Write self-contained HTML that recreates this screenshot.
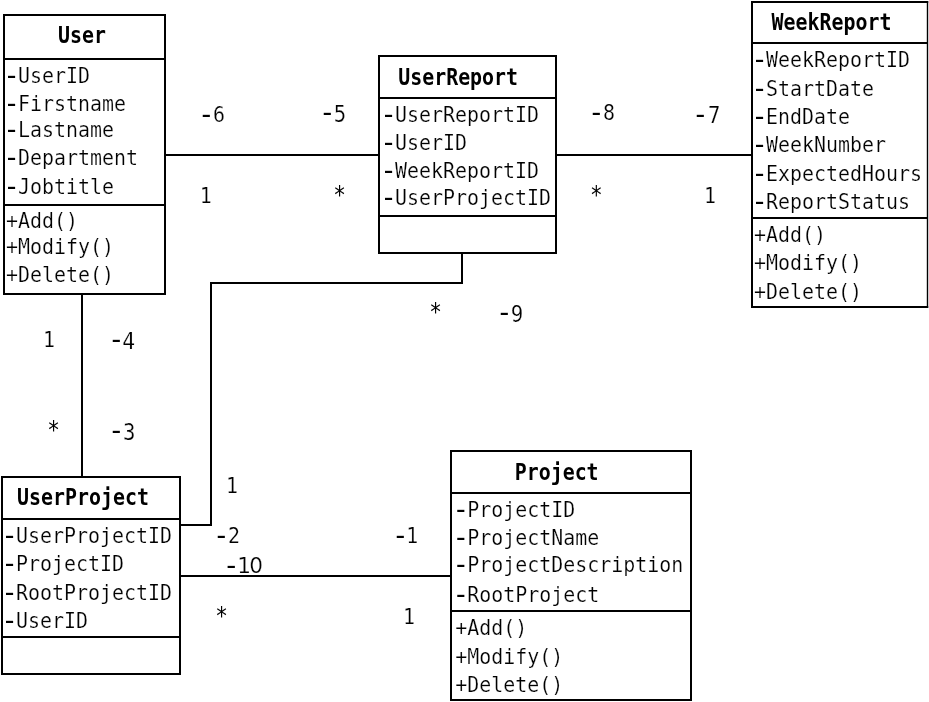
<!DOCTYPE html>
<html lang="en">
<head>
<meta charset="utf-8">
<title>Class diagram</title>
<style>
html,body{margin:0;padding:0;background:#fff;}
body{width:929px;height:702px;overflow:hidden;}
svg{display:block;will-change:transform;filter:grayscale(1);}
text{font-family:"DejaVu Sans Mono", "Liberation Mono", monospace;fill:#000;white-space:pre;}
.t,.z{stroke:#fff;stroke-width:.22px;}
.t{font-size:21.8px;}
.h{font-family:"Liberation Mono","DejaVu Sans Mono",monospace;font-size:28.5px;stroke:none;}
.b{font-size:22.3px;font-weight:bold;}
.z{font-family:"DejaVu Sans","Liberation Sans",sans-serif;font-size:21.8px;}
.s{font-family:"DejaVu Sans Mono","Liberation Mono",monospace;font-size:24.56px;}
.ln{fill:none;stroke:#000;stroke-width:2;stroke-linecap:butt;stroke-linejoin:miter;}
</style>
</head>
<body>
<svg width="929" height="702" viewBox="0 0 929 702">
<rect x="0" y="0" width="929" height="702" fill="#fff"/>
<polyline class="ln" points="165,155 379,155"/>
<polyline class="ln" points="556,155 752,155"/>
<polyline class="ln" points="82,294 82,477"/>
<polyline class="ln" points="180,525 211,525 211,283 462,283 462,253"/>
<polyline class="ln" points="180,576 451,576"/>
<rect class="ln" x="4" y="15" width="161" height="279" style="fill:#fff"/>
<line class="ln" x1="4" y1="59" x2="165" y2="59"/>
<line class="ln" x1="4" y1="205" x2="165" y2="205"/>
<text class="b" transform="translate(58 43) scale(0.8938 1)">User</text>
<text class="t" transform="translate(6 83) scale(0.9143 1)"><tspan class="h" dx="-2.57" dy="1">-</tspan><tspan dx="-1.41" dy="-1">UserID</tspan></text>
<text class="t" transform="translate(6 111) scale(0.9143 1)"><tspan class="h" dx="-2.57" dy="1">-</tspan><tspan dx="-1.41" dy="-1">Firstname</tspan></text>
<text class="t" transform="translate(6 137) scale(0.9143 1)"><tspan class="h" dx="-2.57" dy="1">-</tspan><tspan dx="-1.41" dy="-1">Lastname</tspan></text>
<text class="t" transform="translate(6 165) scale(0.9143 1)"><tspan class="h" dx="-2.57" dy="1">-</tspan><tspan dx="-1.41" dy="-1">Department</tspan></text>
<text class="t" transform="translate(6 194) scale(0.9143 1)"><tspan class="h" dx="-2.57" dy="1">-</tspan><tspan dx="-1.41" dy="-1">Jobtitle</tspan></text>
<text class="t" transform="translate(6 228) scale(0.9143 1)">+Add()</text>
<text class="t" transform="translate(6 254) scale(0.9143 1)">+Modify()</text>
<text class="t" transform="translate(6 282) scale(0.9143 1)">+Delete()</text>
<rect class="ln" x="379" y="56" width="177" height="197" style="fill:#fff"/>
<line class="ln" x1="379" y1="98" x2="556" y2="98"/>
<line class="ln" x1="379" y1="216" x2="556" y2="216"/>
<text class="b" transform="translate(398.2 85) scale(0.8938 1)">UserReport</text>
<text class="t" transform="translate(383 122) scale(0.9143 1)"><tspan class="h" dx="-2.57" dy="1">-</tspan><tspan dx="-1.41" dy="-1">UserReportID</tspan></text>
<text class="t" transform="translate(383 150) scale(0.9143 1)"><tspan class="h" dx="-2.57" dy="1">-</tspan><tspan dx="-1.41" dy="-1">UserID</tspan></text>
<text class="t" transform="translate(383 178) scale(0.9143 1)"><tspan class="h" dx="-2.57" dy="1">-</tspan><tspan dx="-1.41" dy="-1">WeekReportID</tspan></text>
<text class="t" transform="translate(383 205) scale(0.9143 1)"><tspan class="h" dx="-2.57" dy="1">-</tspan><tspan dx="-1.41" dy="-1">UserProjectID</tspan></text>
<rect x="752" y="2" width="175.5" height="305" fill="#fff"/>
<polyline class="ln" points="928.2,2 752,2 752,307 928.2,307"/>
<line class="ln" style="stroke-width:1.4" x1="927.5" y1="1" x2="927.5" y2="308"/>
<line class="ln" x1="752" y1="43" x2="927.5" y2="43"/>
<line class="ln" x1="752" y1="218" x2="927.5" y2="218"/>
<text class="b" transform="translate(771.5 30) scale(0.8938 1)">WeekReport</text>
<text class="t" transform="translate(754 67) scale(0.9143 1)"><tspan class="h" dx="-2.57" dy="1">-</tspan><tspan dx="-1.41" dy="-1">WeekReportID</tspan></text>
<text class="t" transform="translate(754 96) scale(0.9143 1)"><tspan class="h" dx="-2.57" dy="1">-</tspan><tspan dx="-1.41" dy="-1">StartDate</tspan></text>
<text class="t" transform="translate(754 124) scale(0.9143 1)"><tspan class="h" dx="-2.57" dy="1">-</tspan><tspan dx="-1.41" dy="-1">EndDate</tspan></text>
<text class="t" transform="translate(754 152) scale(0.9143 1)"><tspan class="h" dx="-2.57" dy="1">-</tspan><tspan dx="-1.41" dy="-1">WeekNumber</tspan></text>
<text class="t" transform="translate(754 181) scale(0.9143 1)"><tspan class="h" dx="-2.57" dy="1">-</tspan><tspan dx="-1.41" dy="-1">ExpectedHours</tspan></text>
<text class="t" transform="translate(754 209) scale(0.9143 1)"><tspan class="h" dx="-2.57" dy="1">-</tspan><tspan dx="-1.41" dy="-1">ReportStatus</tspan></text>
<text class="t" transform="translate(754 242) scale(0.9143 1)">+Add()</text>
<text class="t" transform="translate(754 270) scale(0.9143 1)">+Modify()</text>
<text class="t" transform="translate(754 299) scale(0.9143 1)">+Delete()</text>
<rect class="ln" x="2" y="477" width="178" height="197" style="fill:#fff"/>
<line class="ln" x1="2" y1="519" x2="180" y2="519"/>
<line class="ln" x1="2" y1="637" x2="180" y2="637"/>
<text class="b" transform="translate(17.1 505) scale(0.8938 1)">UserProject</text>
<text class="t" transform="translate(4 543) scale(0.9143 1)"><tspan class="h" dx="-2.57" dy="1">-</tspan><tspan dx="-1.41" dy="-1">UserProjectID</tspan></text>
<text class="t" transform="translate(4 571) scale(0.9143 1)"><tspan class="h" dx="-2.57" dy="1">-</tspan><tspan dx="-1.41" dy="-1">ProjectID</tspan></text>
<text class="t" transform="translate(4 600) scale(0.9143 1)"><tspan class="h" dx="-2.57" dy="1">-</tspan><tspan dx="-1.41" dy="-1">RootProjectID</tspan></text>
<text class="t" transform="translate(4 628) scale(0.9143 1)"><tspan class="h" dx="-2.57" dy="1">-</tspan><tspan dx="-1.41" dy="-1">UserID</tspan></text>
<rect class="ln" x="451" y="451" width="240" height="249" style="fill:#fff"/>
<line class="ln" x1="451" y1="493" x2="691" y2="493"/>
<line class="ln" x1="451" y1="611" x2="691" y2="611"/>
<text class="b" transform="translate(514.7 480) scale(0.8938 1)">Project</text>
<text class="t" transform="translate(455.3 517) scale(0.9143 1)"><tspan class="h" dx="-2.57" dy="1">-</tspan><tspan dx="-1.41" dy="-1">ProjectID</tspan></text>
<text class="t" transform="translate(455.3 545) scale(0.9143 1)"><tspan class="h" dx="-2.57" dy="1">-</tspan><tspan dx="-1.41" dy="-1">ProjectName</tspan></text>
<text class="t" transform="translate(455.3 572) scale(0.9143 1)"><tspan class="h" dx="-2.57" dy="1">-</tspan><tspan dx="-1.41" dy="-1">ProjectDescription</tspan></text>
<text class="t" transform="translate(455.3 602) scale(0.9143 1)"><tspan class="h" dx="-2.57" dy="1">-</tspan><tspan dx="-1.41" dy="-1">RootProject</tspan></text>
<text class="t" transform="translate(455.3 635) scale(0.9143 1)">+Add()</text>
<text class="t" transform="translate(455.3 664) scale(0.9143 1)">+Modify()</text>
<text class="t" transform="translate(455.3 692) scale(0.9143 1)">+Delete()</text>
<text class="t" transform="translate(200.9 122) scale(0.9143 1)"><tspan class="h" dx="-2.57" dy="1">-</tspan><tspan dx="-1.41" dy="-1">6</tspan></text>
<text class="t" transform="translate(321.85 120) scale(0.9143 1)"><tspan class="h" dx="-2.57" dy="1">-</tspan><tspan dx="-1.41" dy="1" style="font-size:22.6px">5</tspan></text>
<text class="t" transform="translate(199.8 203) scale(0.9143 1)">1</text>
<text class="t" transform="translate(590.9 120) scale(0.9143 1)"><tspan class="h" dx="-2.57" dy="1">-</tspan><tspan dx="-1.41" dy="-1">8</tspan></text>
<text class="t" transform="translate(694.9 122) scale(0.9143 1)"><tspan class="h" dx="-2.57" dy="1">-</tspan><tspan dx="-0.31" dy="0" style="font-size:22.5px">7</tspan></text>
<text class="t" transform="translate(703.9 203) scale(0.9143 1)">1</text>
<text class="t" transform="translate(42.9 347) scale(0.9143 1)">1</text>
<text class="t" transform="translate(110.9 347) scale(0.9143 1)"><tspan class="h" dx="-2.57" dy="1">-</tspan><tspan dx="-2.17" dy="1" style="font-size:23.4px">4</tspan></text>
<text class="t" transform="translate(110.9 438) scale(0.9143 1)"><tspan class="h" dx="-2.57" dy="1">-</tspan><tspan dx="-1.41" dy="1" style="font-size:22.6px">3</tspan></text>
<text class="t" transform="translate(498.85 320) scale(0.9143 1)"><tspan class="h" dx="-2.57" dy="1">-</tspan><tspan dx="-1.41" dy="1" style="font-size:22.7px">9</tspan></text>
<text class="t" transform="translate(225.9 493) scale(0.9143 1)">1</text>
<text class="t" transform="translate(215.9 543) scale(0.9143 1)"><tspan class="h" dx="-2.57" dy="1">-</tspan><tspan dx="-1.41" dy="-1">2</tspan></text>
<text class="z" style="font-size:20.6px" transform="translate(226.25 573) scale(1.05 1)"><tspan style="font-size:26.4px;stroke:none" dy="1">-</tspan><tspan dx="1.08 -1.88" dy="-1">10</tspan></text>
<text class="t" transform="translate(394.95 543) scale(0.9143 1)"><tspan class="h" dx="-2.57" dy="1">-</tspan><tspan dx="-2.06" dy="-1">1</tspan></text>
<text class="t" transform="translate(403.0 624) scale(0.9143 1)">1</text>
<text class="s" transform="translate(333.17 203.23) scale(0.8560 1)">*</text>
<text class="s" transform="translate(590.12 203.23) scale(0.8560 1)">*</text>
<text class="s" transform="translate(47.17 438.23) scale(0.8560 1)">*</text>
<text class="s" transform="translate(429.27 320.13) scale(0.8560 1)">*</text>
<text class="s" transform="translate(215.17 624.33) scale(0.8560 1)">*</text>
</svg>
</body>
</html>
